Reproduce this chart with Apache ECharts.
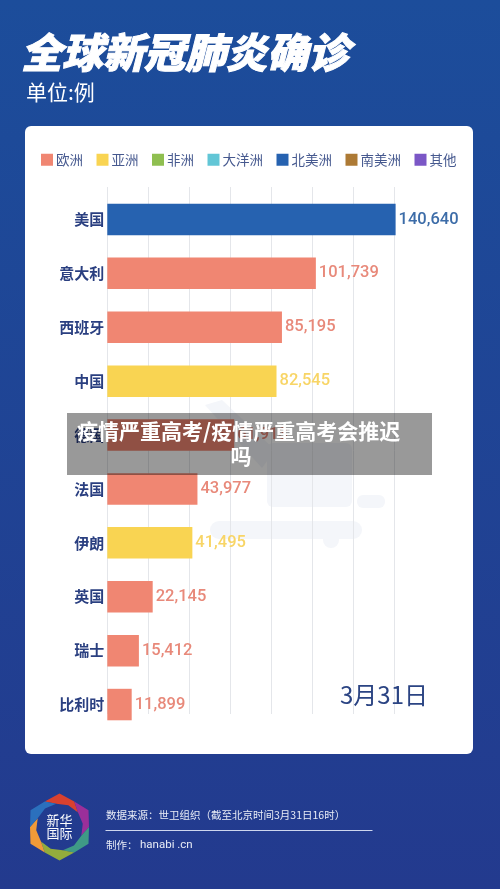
<!DOCTYPE html>
<html><head><meta charset="utf-8">
<style>html,body{margin:0;padding:0;background:#1f4392}#c{width:500px;height:889px}</style>
<script src="https://cdn.jsdelivr.net/npm/echarts@6/dist/echarts.min.js"></script>
</head><body><div id="c"></div>
<script>
const countries = ['美国','意大利','西班牙','中国','德国','法国','伊朗','英国','瑞士','比利时'];
const europe = [null,101739,85195,null,61913,43977,null,22145,15412,11899];
const asia = [null,null,null,82545,null,null,41495,null,null,null];
const africa = [null,null,null,null,null,null,null,null,null,null];
const oceania = [null,null,null,null,null,null,null,null,null,null];
const northAmerica = [140640,null,null,null,null,null,null,null,null,null];
const southAmerica = [null,null,null,null,null,null,null,null,null,null];
const others = [null,null,null,null,null,null,null,null,null,null];
const continents = ['欧洲','亚洲','非洲','大洋洲','北美洲','南美洲','其他'];
const colors = ['#f08672','#f9d452','#8fbf50','#62c6d6','#2662b0','#ad7a35','#7b57c6'];
const labelColors = ['#e8897a','#f8d566','#8fbf50','#62c6d6','#3c6ca8','#ad7a35','#7b57c6'];
const values = [europe,asia,africa,oceania,northAmerica,southAmerica,others];
const CJK = '"Noto Sans CJK SC"';

const series = continents.map((name,i)=>({
  name, type:'bar', stack:'all', xAxisIndex:0, yAxisIndex:0, barWidth:31.5, clip:false,
  data: values[i], itemStyle:{color:colors[i]},
  label:{show:true,position:'right',distance:3,color:labelColors[i],
    fontFamily:'Roboto',fontWeight:500,fontSize:16.5,
    formatter:p=>p.value==null?'':Number(p.value).toLocaleString('en-US')}
}));

// decorative logo ring
const ringColors=['#d8412f','#9b2f9a','#3f9a86','#93ac3c','#f09a38','#2b70bd'];
const cx=59.5,cy=827,R=33.5,Rm=29.5,r=23.5,logo=[];
const pt=(rad,deg)=>[cx+rad*Math.cos(deg*Math.PI/180),cy+rad*Math.sin(deg*Math.PI/180)];
ringColors.forEach((col,i)=>{
  const a=-120+i*60;
  logo.push({type:'polygon',z:5,shape:{points:[pt(Rm,a),pt(R,a+30),pt(Rm,a+60),pt(r,a+60+22),pt(r,a+30+22),pt(r,a+22)]},style:{fill:col}});
});

const txt=(x,y,text,size,fill,extra)=>({type:'text',x,y,z:6,style:Object.assign({text,fontSize:size,fill,fontFamily:CJK,verticalAlign:'middle'},extra||{})});
const wm='#f4f6fa';

const chart=echarts.init(document.getElementById('c'),null,{renderer:'canvas'});
chart.setOption({
  animation:false,
  backgroundColor:new echarts.graphic.LinearGradient(0,0,0,1,[{offset:0,color:'#1c4d9b'},{offset:1,color:'#233a8e'}]),
  title:[
    {text:'全球新冠肺炎确诊',left:16,top:27,textStyle:{color:'#fff',fontSize:41,fontWeight:900,fontStyle:'italic',fontFamily:CJK,textBorderColor:'#fff',textBorderWidth:1}},
    {text:'单位:例',left:21,top:77,textStyle:{color:'#fff',fontSize:21,fontWeight:400,fontFamily:CJK}},
  ],
  legend:{
    data:continents,left:41,top:153,padding:0,itemWidth:12,itemHeight:12,itemGap:13.5,icon:'rect',
    selectedMode:false,textStyle:{color:'#46598f',fontSize:13.5,fontFamily:CJK,padding:[0,0,0,-2]}
  },
  grid:[
    {left:107.3,width:287,top:192.5,height:539},
    {left:107.3,width:287,top:187,height:527}
  ],
  xAxis:[
    {gridIndex:0,type:'value',min:0,max:140000,interval:20000,axisLine:{show:false},axisTick:{show:false},axisLabel:{show:false},splitLine:{show:false}},
    {gridIndex:1,type:'value',min:0,max:140000,interval:20000,axisLine:{show:false},axisTick:{show:false},axisLabel:{show:false},splitLine:{show:true,lineStyle:{color:'#e4e6ea',width:1}}}
  ],
  yAxis:[
    {gridIndex:0,type:'category',inverse:true,data:countries,axisLine:{show:false},axisTick:{show:false},
     axisLabel:{margin:3,color:'#2a3f80',fontSize:15,fontWeight:700,fontFamily:CJK}},
    {gridIndex:1,type:'category',inverse:true,data:countries,axisLine:{show:false},axisTick:{show:false},axisLabel:{show:false}}
  ],
  series,
  graphic:[
    {type:'rect',z:-10,shape:{x:25,y:126,width:448,height:628,r:6},style:{fill:'#fff'}},
    {type:'rect',z:-9,shape:{x:267,y:443,width:85,height:64,r:6},style:{fill:wm}},
    {type:'rect',z:-9,shape:{x:210,y:521,width:152,height:18,r:9},style:{fill:wm}},
    {type:'rect',z:-9,shape:{x:357,y:495,width:28,height:13,r:6},style:{fill:wm}},
    {type:'circle',z:-9,shape:{cx:331,cy:540,r:8},style:{fill:wm}},
    {type:'polygon',z:-9,shape:{points:[[205,405],[222,400],[275,450],[262,468]]},style:{fill:wm}},
    {type:'rect',z:100,shape:{x:67,y:413,width:365,height:62},style:{fill:'rgba(0,0,0,0.4)'}},
    {type:'text',x:77,y:431,z:101,style:{text:'疫情严重高考/疫情严重高考会推迟',fontSize:21,fontWeight:700,fill:'#fff',fontFamily:CJK,verticalAlign:'middle'}},
    {type:'text',x:241,y:456,z:101,style:{text:'吗',fontSize:21,fontWeight:700,fill:'#fff',fontFamily:CJK,align:'center',verticalAlign:'middle'}},
    txt(340,695,'3月31日',24,'#2b4483'),
    ...logo,
    txt(59.5,820.5,'新华',13,'#fff',{align:'center'}),
    txt(59.5,833.5,'国际',13,'#fff',{align:'center'}),
    txt(106,815,'数据来源：世卫组织（截至北京时间3月31日16时）',10.5,'#e8ecf6'),
    {type:'rect',z:6,shape:{x:105.5,y:830,width:267,height:1},style:{fill:'#cdd6ee'}},
    txt(106,845,'制作：',10.5,'#e8ecf6'),
    txt(140,845,'hanabi .cn',11.5,'#e8ecf6',{fontFamily:'Roboto'})
  ]
});
</script></body></html>
